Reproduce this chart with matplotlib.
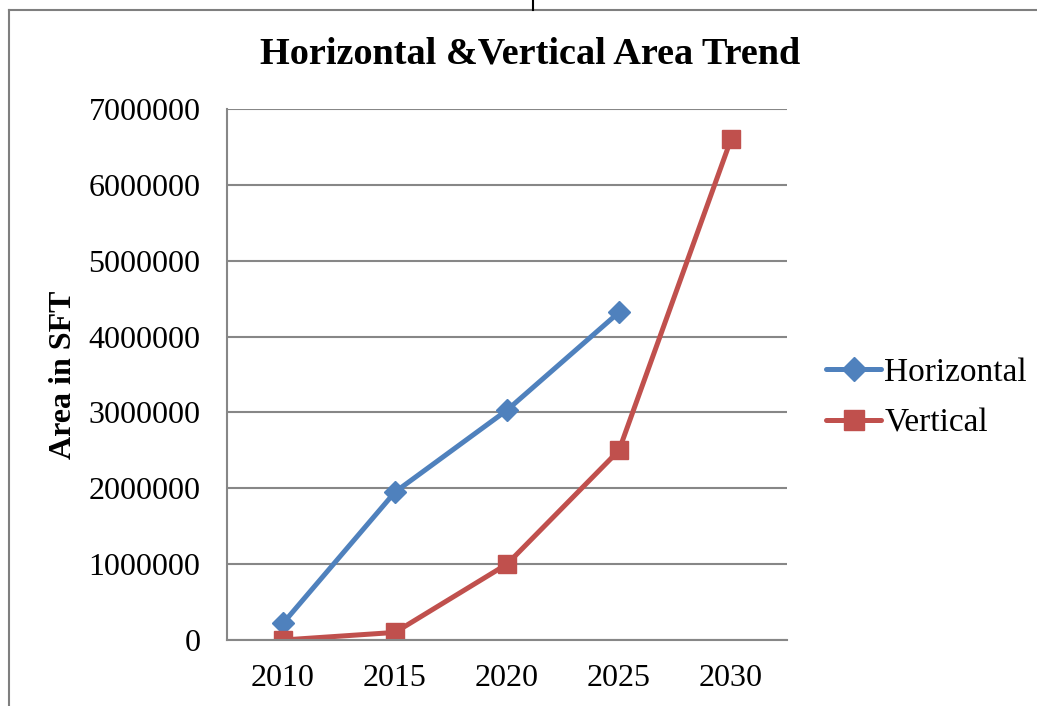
import matplotlib.pyplot as plt
from matplotlib.lines import Line2D
from matplotlib.ticker import FuncFormatter

years = ['2010', '2015', '2020', '2025', '2030']
horizontal = [220000, 1950000, 3030000, 4320000]
vertical = [0, 100000, 1000000, 2500000, 6600000]

plt.rcParams['font.family'] = ['Liberation Serif', 'DejaVu Serif']

fig = plt.figure(figsize=(10.37, 7.06), dpi=100)
ax = fig.add_axes([227 / 1037, 1 - 640 / 706, 560 / 1037, 531 / 706])

ax.plot(range(len(horizontal)), horizontal, color='#4F81BD', lw=3.6,
        marker='D', markersize=11, label='Horizontal', solid_capstyle='round')
ax.plot(range(len(vertical)), vertical, color='#C0504D', lw=3.6,
        marker='s', markersize=13, label='Vertical', solid_capstyle='round')

ax.set_xlim(-0.5, 4.5)
ax.set_ylim(0, 7000000)
ax.set_yticks(range(0, 7000001, 1000000))
ax.yaxis.set_major_formatter(FuncFormatter(lambda v, p: '%d' % v))
ax.set_xticks(range(len(years)))
ax.set_xticklabels(years)
ax.tick_params(axis='both', length=0, labelsize=23, pad=19)
ax.tick_params(axis='x', pad=17)
ax.yaxis.grid(True, color='#878787', lw=1.5)
ax.set_axisbelow(True)
for side in ['top', 'right']:
    ax.spines[side].set_visible(False)
ax.spines['left'].set_color('#878787')
ax.spines['bottom'].set_color('#878787')
ax.spines['left'].set_linewidth(1.5)
ax.spines['bottom'].set_linewidth(1.5)

ax.set_ylabel('Area in SFT', fontsize=23, fontweight='bold')
ax.yaxis.set_label_coords(-(227 - 78) / 560, (640 - 375) / 531)

fig.text(530 / 1037, 1 - 54 / 706, 'Horizontal &Vertical Area Trend',
         ha='center', va='center', fontsize=27.5, fontweight='bold')

ax.legend(loc='center left', bbox_to_anchor=(826 / 1037, 1 - 398 / 706),
          bbox_transform=fig.transFigure, frameon=False, fontsize=24,
          handlelength=1.65, handletextpad=0.1, labelspacing=0.62,
          borderpad=0, borderaxespad=0, markerscale=1.1)

# outer frame around the chart
fig.add_artist(Line2D([9 / 1037, 9 / 1037], [0, 1 - 10 / 706],
                      transform=fig.transFigure, color='#7f7f7f', lw=1.5))
fig.add_artist(Line2D([9 / 1037, 1], [1 - 10 / 706, 1 - 10 / 706],
                      transform=fig.transFigure, color='#7f7f7f', lw=1.5))
fig.add_artist(Line2D([533 / 1037, 533 / 1037], [1 - 10 / 706, 1],
                      transform=fig.transFigure, color='black', lw=1.5))

fig.savefig('out.png', dpi=100)
